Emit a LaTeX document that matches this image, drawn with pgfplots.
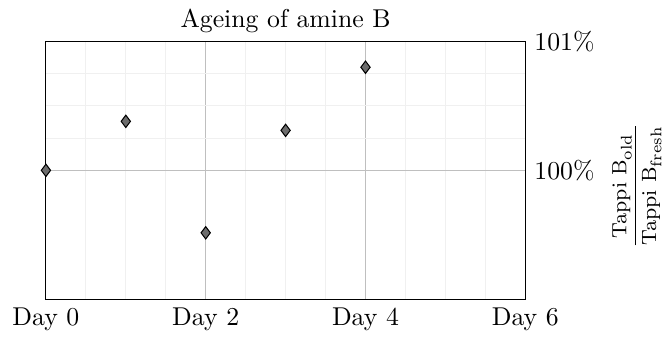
\documentclass[border=0pt]{standalone}
\usepackage{pgfplots}
\pgfplotsset{compat=1.18}
\begin{document}
\begin{tikzpicture}
\begin{axis}[
  scale only axis,
  width=186pt, height=100pt,
  title={Ageing of amine B},
  title style={yshift=-6pt},
  xmin=0, xmax=6, ymin=99, ymax=101,
  xtick={0,2,4,6},
  xticklabels={Day 0, Day 2, Day 4, Day 6},
  ytick={100,101},
  yticklabels={100\%, 101\%},
  minor x tick num=3,
  minor y tick num=3,
  yticklabel pos=right,
  ylabel near ticks,
  ylabel={\footnotesize$\displaystyle\frac{\mathrm{Tappi\ B}_{\mathrm{old}}}{\mathrm{Tappi\ B}_{\mathrm{fresh}}}$},
  ylabel style={xshift=-6pt},
  grid=both,
  major grid style={gray!50},
  minor grid style={gray!12},
  major tick length=0pt,
  minor tick length=0pt,
  axis line style={black},
  clip=false,
]
\addplot[only marks, mark=diamond*, mark size=2.4pt,
  mark options={fill=gray!85!black, draw=black, line width=0.4pt}]
  coordinates {
    (0,100.00)
    (1,100.38)
    (2,99.515)
    (3,100.31)
    (4,100.80)
  };
\end{axis}
% a little white margin on the left
\path ([xshift=-1.5pt]current bounding box.south west);
\end{tikzpicture}
\end{document}
